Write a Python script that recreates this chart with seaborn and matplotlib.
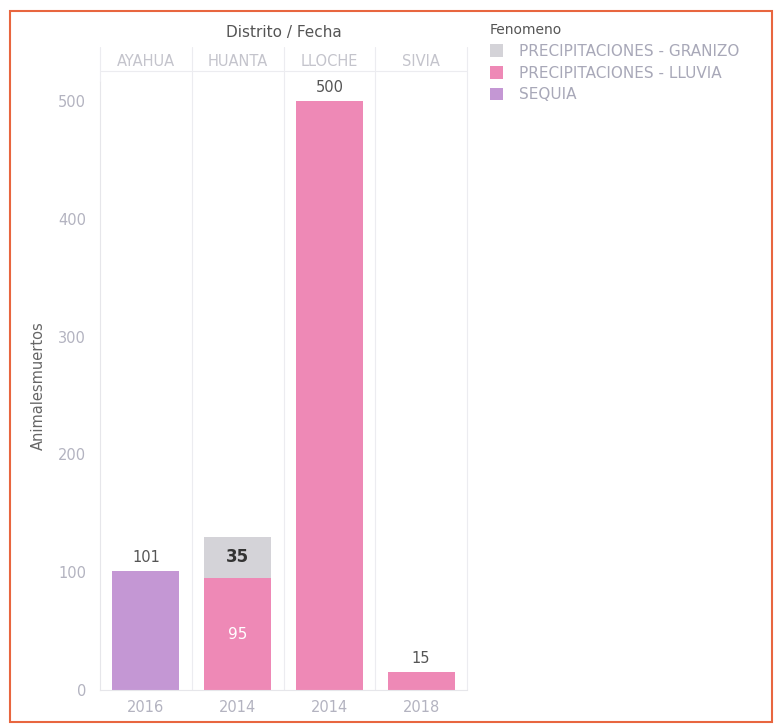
import matplotlib
matplotlib.use("Agg")
import matplotlib.pyplot as plt
from matplotlib.patches import Patch, Rectangle
import seaborn as sns
import pandas as pd

# ---- data ----
distritos = ["AYAHUA", "HUANTA", "LLOCHE", "SIVIA"]
fechas = ["2016", "2014", "2014", "2018"]
fenomenos = ["PRECIPITACIONES - GRANIZO", "PRECIPITACIONES - LLUVIA", "SEQUIA"]
granizo = [0, 35, 0, 0]
lluvia = [0, 95, 500, 15]
sequia = [101, 0, 0, 0]
colores = ["#d4d3d8", "#ee89b6", "#c497d4"]

sns.set_theme(style="white")
plt.rcParams["font.family"] = ["DejaVu Sans"]

cols = [f"{d}\n{f}" for d, f in zip(distritos, fechas)]
df = pd.DataFrame({"col": cols, "granizo": granizo, "lluvia": lluvia, "sequia": sequia})
# stacking order bottom -> top: sequia, lluvia, granizo
df["c_seq"] = df["sequia"]
df["c_llu"] = df["c_seq"] + df["lluvia"]
df["c_gra"] = df["c_llu"] + df["granizo"]

W, H = 774, 724
fig = plt.figure(figsize=(W / 100, H / 100), dpi=100)
fig.patch.set_facecolor("white")
L, R, T, B = 100, 467, 82, 690
ax = fig.add_axes([L / W, 1 - B / H, (R - L) / W, (B - T) / H])

for key, c in [("c_gra", colores[0]), ("c_llu", colores[1]), ("c_seq", colores[2])]:
    sns.barplot(data=df, x="col", y=key, order=cols, color=c, width=0.73,
                saturation=1, ax=ax, edgecolor="none", errorbar=None)

YTOP = 516
ax.set_xlim(-0.5, 3.5)
ax.set_ylim(0, YTOP)
ax.set_yticks([0, 100, 200, 300, 400, 500])
ax.set_xticks(range(4))
ax.set_xticklabels(fechas)
tick_c = "#b3b3c0"
ax.tick_params(axis="both", length=0, labelsize=10.5, colors=tick_c)
ax.tick_params(axis="y", pad=10)
ax.tick_params(axis="x", pad=7)
ax.set_xlabel("")
ax.set_ylabel("Animalesmuertos", fontsize=10.5, color="#666666", labelpad=9)
for s in ["top", "right"]:
    ax.spines[s].set_visible(False)
for s in ["left", "bottom"]:
    ax.spines[s].set_color("#e6e6ea")
    ax.spines[s].set_linewidth(0.8)

# column separators (extend into header)
HL, HT = 525, 546
sep_c = "#ececf0"
for xs in [0.5, 1.5, 2.5, 3.5]:
    ax.plot([xs, xs], [0, HT], color=sep_c, lw=0.8, clip_on=False)
ax.plot([-0.5, -0.5], [YTOP, HT], color=sep_c, lw=0.8, clip_on=False)
ax.plot([-0.5, 3.5], [HL, HL], color=sep_c, lw=0.8, clip_on=False)

# header district names
for i, d in enumerate(distritos):
    ax.text(i, 533, d, ha="center", va="center", fontsize=10.5, color="#c4c4cc", clip_on=False)
ax.text(1.5, 558, "Distrito / Fecha", ha="center", va="center", fontsize=11,
        color="#555555", clip_on=False)

# value labels
lab_c = "#555555"
ax.text(0, 101 + 5, "101", ha="center", va="bottom", fontsize=10.5, color=lab_c)
ax.text(2, 500 + 5, "500", ha="center", va="bottom", fontsize=10.5, color=lab_c)
ax.text(3, 15 + 5, "15", ha="center", va="bottom", fontsize=10.5, color=lab_c)
ax.text(1, 95 + 35 / 2, "35", ha="center", va="center", fontsize=12, color="#333333",
        fontweight="bold")
ax.text(1, 95 / 2, "95", ha="center", va="center", fontsize=11, color="white")

# legend
handles = [Patch(facecolor=c, edgecolor="none") for c in colores]
leg = fig.legend(handles, fenomenos, loc="upper left",
                 bbox_to_anchor=(476 / W, 1 - 9 / H), frameon=False,
                 title="Fenomeno", fontsize=11, title_fontsize=10,
                 handlelength=0.9, handleheight=0.9, handletextpad=1.0,
                 labelspacing=0.45, alignment="left")
for t in leg.get_texts():
    t.set_color("#a8a8b8")
leg.get_title().set_color("#555555")

# outer border
fig.patches.append(Rectangle((10 / W, 2 / H), (W - 12) / W, (H - 13) / H,
                             transform=fig.transFigure, fill=False,
                             edgecolor="#e8663f", lw=1.5))

fig.savefig("out.png", dpi=100)
